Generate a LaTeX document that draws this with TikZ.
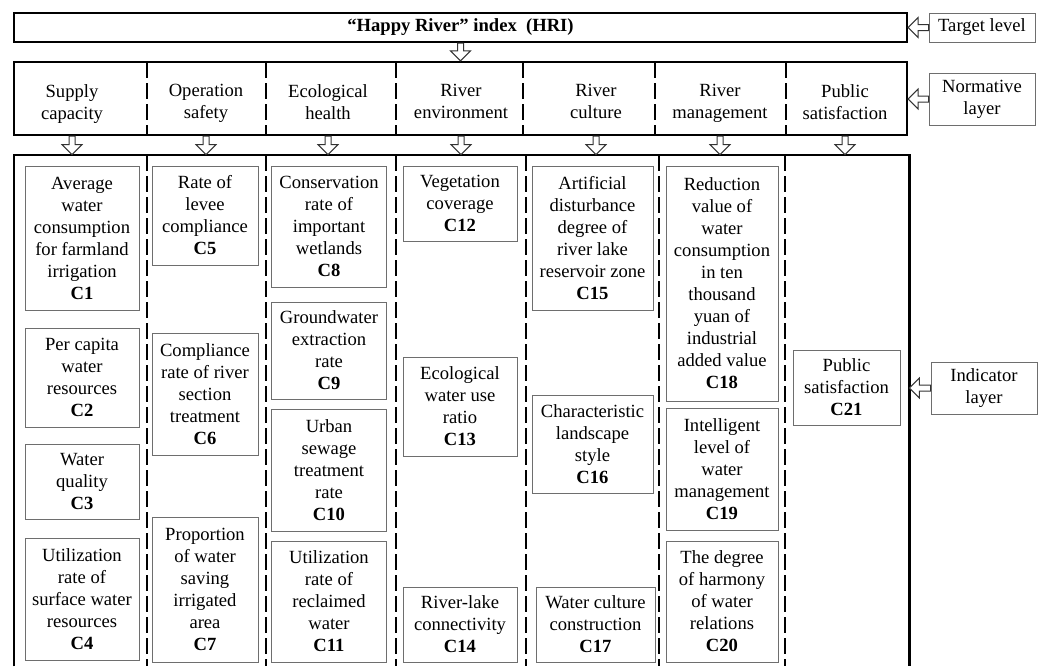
\documentclass[tikz,border=0pt]{standalone}
\usepackage{fontspec}
\setmainfont{Liberation Serif}
\usepackage{xcolor}
\usetikzlibrary{positioning, calc}
\definecolor{boxgray}{HTML}{6E6E6E}

\begin{document}
\begin{tikzpicture}[
  x=0.5pt, y=-0.5pt,
  every node/.style={font=\fontsize{9.3}{11}\selectfont, align=center, inner sep=0pt},
  frame/.style={line width=1.1pt},
  sep/.style={line width=1.4pt, dash pattern=on 8pt off 2.5pt},
  hdr/.style={anchor=north},
  cell/.style 2 args={
    rectangle, draw=boxgray, line width=0.5pt,
    minimum width=#1*0.5pt, minimum height=#2*0.5pt
  },
  lbl/.style={
    rectangle, draw=boxgray, line width=0.5pt, minimum width=106*0.5pt
  },
  hollowdown/.style={
    draw=black!80, line width=0.5pt, fill=white,
    to path={let \p1=(\tikztostart), \p2=(\tikztotarget) in
      (\x1-1.5pt,\y1) -- (\x1-1.5pt,\y2+5pt) -- (\x1-5pt,\y2+5pt) -- (\x1,\y2)
      -- (\x1+5pt,\y2+5pt) -- (\x1+1.5pt,\y2+5pt) -- (\x1+1.5pt,\y1) -- cycle}
  },
  hollowleft/.style={
    draw=black!80, line width=0.5pt, fill=white,
    to path={let \p1=(\tikztostart), \p2=(\tikztotarget) in
      (\x1,\y1-1.5pt) -- (\x2+5pt,\y1-1.5pt) -- (\x2+5pt,\y1-5pt) -- (\x2,\y1)
      -- (\x2+5pt,\y1+5pt) -- (\x2+5pt,\y1+1.5pt) -- (\x1,\y1+1.5pt) -- cycle}
  }
]
\useasboundingbox (0,0) rectangle (1045,666);

%% Column centres (px)
\def\xA{82}
\def\xB{205}
\def\xC{329}
\def\xD{460}
\def\xE{592.5}
\def\xF{722}
\def\xG{846.5}

%% === TARGET LEVEL ===
\node[draw, frame, minimum width=893*0.5pt, minimum height=29*0.5pt,
      font=\fontsize{9.3}{11}\selectfont\bfseries] (hri) at (460.5,27.5)
  {``Happy River'' index\ \ (HRI)};

%% === NORMATIVE LAYER ===
\node[draw, frame, minimum width=893*0.5pt, minimum height=73*0.5pt] (norm) at (460.5,98.5) {};
\foreach \bx in {147,266,396,523,655,786}
  \draw[sep] (\bx,62) -- (\bx,135);

\node[hdr] (n1) at (72,84)  {Supply\\capacity};
\node[hdr] (n2) at (206,84) {Operation\\safety};
\node[hdr] (n3) at (328,84) {Ecological\\health};
\node[hdr] (n4) at (461,84) {River\\environment};
\node[hdr] (n5) at (596,84) {River\\culture};
\node[hdr] (n6) at (720,84) {River\\management};
\node[hdr] (n7) at (845,84) {Public\\satisfaction};

%% === INDICATOR LAYER (open at the bottom) ===
\node[minimum width=895*0.5pt, minimum height=511*0.5pt] (ind) at (461.5,410.5) {};
\draw[frame] (ind.south west) -- (ind.north west) -- (ind.north east) -- (ind.south east);
\foreach \bx in {147,266,396,526,659,785}
  \draw[sep] (\bx,155) -- (\bx,666);

%% column 1
\node[cell={114}{144}] (c1) at (\xA,238)   {Average\\water\\consumption\\for farmland\\irrigation\\\textbf{C1}};
\node[cell={114}{99}]  (c2) at (\xA,377.5) {Per capita\\water\\resources\\\textbf{C2}};
\node[cell={114}{75}]  (c3) at (\xA,481.5) {Water\\quality\\\textbf{C3}};
\node[cell={114}{122}] (c4) at (\xA,599)   {Utilization\\rate of\\surface water\\resources\\\textbf{C4}};

%% column 2
\node[cell={106}{99}]  (c5) at (\xB,215.5) {Rate of\\levee\\compliance\\\textbf{C5}};
\node[cell={106}{122}] (c6) at (\xB,394)   {Compliance\\rate of river\\section\\treatment\\\textbf{C6}};
\node[cell={106}{145}] (c7) at (\xB,589.5) {Proportion\\of water\\saving\\irrigated\\area\\\textbf{C7}};

%% column 3
\node[cell={115}{121}] (c8)  at (\xC,226.5) {Conservation\\rate of\\important\\wetlands\\\textbf{C8}};
\node[cell={115}{97}]  (c9)  at (\xC,350.5) {Groundwater\\extraction\\rate\\\textbf{C9}};
\node[cell={115}{122}] (c10) at (\xC,470)   {Urban\\sewage\\treatment\\rate\\\textbf{C10}};
\node[cell={115}{121}] (c11) at (\xC,601.5) {Utilization\\rate of\\reclaimed\\water\\\textbf{C11}};

%% column 4
\node[cell={114}{75}] (c12) at (\xD,203.5) {Vegetation\\coverage\\\textbf{C12}};
\node[cell={114}{99}] (c13) at (\xD,406.5) {Ecological\\water use\\ratio\\\textbf{C13}};
\node[cell={114}{75}] (c14) at (\xD,624.5) {River-lake\\connectivity\\\textbf{C14}};

%% column 5
\node[cell={121}{144}] (c15) at (\xE,238)   {Artificial\\disturbance\\degree of\\river lake\\reservoir zone\\\textbf{C15}};
\node[cell={121}{98}]  (c16) at (\xE,444)   {Characteristic\\landscape\\style\\\textbf{C16}};
\node[cell={119}{75}]  (c17) at (595.5,624.5) {Water culture\\construction\\\textbf{C17}};

%% column 6
\node[cell={112}{235}] (c18) at (\xF,283.5) {Reduction\\value of\\water\\consumption\\in ten\\thousand\\yuan of\\industrial\\added value\\\textbf{C18}};
\node[cell={112}{122}] (c19) at (\xF,469)   {Intelligent\\level of\\water\\management\\\textbf{C19}};
\node[cell={112}{121}] (c20) at (\xF,601.5) {The degree\\of harmony\\of water\\relations\\\textbf{C20}};

%% column 7
\node[cell={107}{75}] (c21) at (\xG,387.5) {Public\\satisfaction\\\textbf{C21}};

%% === LEVEL LABELS ===
\node[lbl, minimum height=29*0.5pt] (tgt) at (982,27.5) {Target level};
\node[lbl, minimum height=52*0.5pt] (nrm) at (982,99)   {Normative\\layer};
\node[lbl, minimum height=52*0.5pt] (icl) at (984,388)  {Indicator\\layer};

%% === ARROWS ===
\draw[hollowleft] (tgt.west) to (tgt.west -| hri.east);
\draw[hollowleft] (nrm.west) to (nrm.west -| norm.east);
\draw[hollowleft] (icl.west) to (icl.west -| ind.east);

\draw[hollowdown] (hri.south) to (hri.south |- norm.north);
\foreach \i in {1,...,7}
  \draw[hollowdown] (n\i |- norm.south) to (n\i |- ind.north);

\end{tikzpicture}
\end{document}
